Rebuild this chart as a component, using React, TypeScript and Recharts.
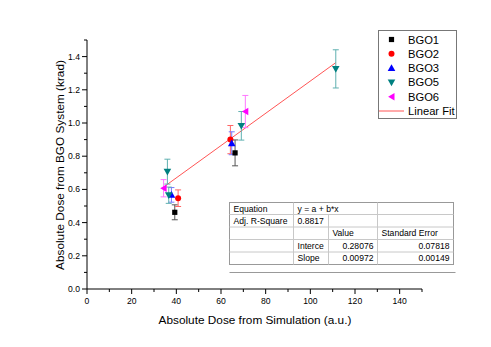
import { ErrorBar, ReferenceLine, Scatter, ScatterChart, XAxis, YAxis } from "recharts";

const xTicks = [0, 10, 20, 30, 40, 50, 60, 70, 80, 90, 100, 110, 120, 130, 140, 150];
const yTicks = [0, 0.1, 0.2, 0.3, 0.4, 0.5, 0.6, 0.7, 0.8, 0.9, 1.0, 1.1, 1.2, 1.3, 1.4, 1.5];

const bgo1X = [66.3, 39.3];
const bgo1Y = [0.82, 0.462];
const bgo1Err = [0.078, 0.045];

const bgo2X = [64.2, 40.8];
const bgo2Y = [0.9, 0.547];
const bgo2Err = [0.085, 0.05];

const bgo3X = [64.8, 37.8];
const bgo3Y = [0.878, 0.567];
const bgo3Err = [0.069, 0.044];

const bgo5X = [69.1, 36.0, 36.6, 111.4];
const bgo5Y = [0.983, 0.707, 0.565, 1.326];
const bgo5Err = [0.086, 0.075, 0.049, 0.115];

const bgo6X = [70.9, 34.3];
const bgo6Y = [1.069, 0.607];
const bgo6Err = [0.097, 0.052];

const fitIntercept = 0.28076;
const fitSlope = 0.00972;
const fitFrom = 34.3;
const fitTo = 111.4;

const tableRows = [
  ["Equation", "y = a + b*x", "", ""],
  ["Adj. R-Square", "0.8817", "", ""],
  ["", "", "Value", "Standard Error"],
  ["", "Interce", "0.28076", "0.07818"],
  ["", "Slope", "0.00972", "0.00149"]
];

const FONT = "'Liberation Sans', Arial, sans-serif";

type MarkProps = { cx?: number; cy?: number; fill?: string };

const square = ({ cx = 0, cy = 0, fill }: MarkProps) => (
  <rect x={cx - 2.6} y={cy - 2.6} width={5.2} height={5.2} fill={fill} />
);
const circle = ({ cx = 0, cy = 0, fill }: MarkProps) => <circle cx={cx} cy={cy} r={3} fill={fill} />;
const triUp = ({ cx = 0, cy = 0, fill }: MarkProps) => (
  <polygon points={`${cx},${cy - 3.8} ${cx + 3.8},${cy + 2.9} ${cx - 3.8},${cy + 2.9}`} fill={fill} />
);
const triDown = ({ cx = 0, cy = 0, fill }: MarkProps) => (
  <polygon points={`${cx},${cy + 3.8} ${cx + 3.8},${cy - 2.9} ${cx - 3.8},${cy - 2.9}`} fill={fill} />
);
const triLeft = ({ cx = 0, cy = 0, fill }: MarkProps) => (
  <polygon points={`${cx - 3.4},${cy} ${cx + 3},${cy - 3.8} ${cx + 3},${cy + 3.8}`} fill={fill} />
);

const toPoints = (xs: number[], ys: number[], errs: number[]) =>
  xs.map((x, i) => ({ x, y: ys[i], err: errs[i] }));

const series = [
  { name: "BGO1", data: toPoints(bgo1X, bgo1Y, bgo1Err), fill: "#000000", bar: "#555555", shape: square },
  { name: "BGO2", data: toPoints(bgo2X, bgo2Y, bgo2Err), fill: "#ff0000", bar: "#ff6666", shape: circle },
  { name: "BGO3", data: toPoints(bgo3X, bgo3Y, bgo3Err), fill: "#0000ff", bar: "#7777ff", shape: triUp },
  { name: "BGO5", data: toPoints(bgo5X, bgo5Y, bgo5Err), fill: "#008080", bar: "#5fb0b0", shape: triDown },
  { name: "BGO6", data: toPoints(bgo6X, bgo6Y, bgo6Err), fill: "#ff00ff", bar: "#ff77ff", shape: triLeft }
];

function XTick({ x, y, payload }: any) {
  const v = payload.value as number;
  const major = v % 20 === 0;
  return (
    <g>
      <line x1={x} y1={y} x2={x} y2={y + (major ? 5 : 3)} stroke="#000" />
      {major && (
        <text x={x} y={y + 15} textAnchor="middle" fontSize={8.6} fontFamily={FONT} fill="#000">
          {v}
        </text>
      )}
    </g>
  );
}

function YTick({ x, y, payload }: any) {
  const v = payload.value as number;
  const major = Math.round(v * 10) % 2 === 0;
  return (
    <g>
      <line x1={x} y1={y} x2={x - (major ? 5 : 3)} y2={y} stroke="#000" />
      {major && (
        <text x={x - 7} y={y + 3} textAnchor="end" fontSize={8.6} fontFamily={FONT} fill="#000">
          {v.toFixed(1)}
        </text>
      )}
    </g>
  );
}

function Overlay() {
  const cols = [229.5, 293.5, 328.5, 377.5, 453.5];
  const rows = [202.5, 214.5, 227, 239.5, 252, 264.5];
  const rightCells = (r: number, c: number) => r >= 3 && c >= 2;
  return (
    <svg width={491} height={347} style={{ position: "absolute", left: 0, top: 0, pointerEvents: "none" }}>
      {/* legend */}
      <rect x={378.5} y={30.5} width={78} height={88} fill="#fff" stroke="#777" />
      {series.map((s, i) => (
        <g key={s.name}>
          {s.shape({ cx: 391.5, cy: 39.5 + i * 14.3, fill: s.fill })}
          <text x={408} y={43.5 + i * 14.3} fontSize={11.2} fontFamily={FONT} fill="#000">
            {s.name}
          </text>
        </g>
      ))}
      <line x1={379} y1={111} x2={404} y2={111} stroke="#ff5555" />
      <text x={408} y={115} fontSize={11.2} fontFamily={FONT} fill="#000">
        Linear Fit
      </text>

      {/* fit table */}
      <rect x={cols[0]} y={rows[0]} width={cols[4] - cols[0]} height={rows[5] - rows[0]} fill="#fff" stroke="#999" />
      {rows.slice(1, 5).map((ry) => (
        <line key={ry} x1={cols[0]} y1={ry} x2={cols[4]} y2={ry} stroke="#c8c8c8" />
      ))}
      {cols.slice(1, 4).map((cx, ci) => (
        <line
          key={cx}
          x1={cx}
          y1={ci === 1 ? rows[1] : rows[0]}
          x2={cx}
          y2={rows[5]}
          stroke="#c8c8c8"
        />
      ))}
      <line x1={cols[0]} y1={272.5} x2={cols[4] + 2} y2={272.5} stroke="#999" />
      {tableRows.map((row, r) =>
        row.map((cell, c) =>
          cell ? (
            <text
              key={`${r}-${c}`}
              x={rightCells(r, c) ? cols[c + 1] - 4 : cols[c] + 4}
              y={(rows[r] + rows[r + 1]) / 2 + 3.2}
              textAnchor={rightCells(r, c) ? "end" : "start"}
              fontSize={8.6}
              fontFamily={FONT}
              fill="#000"
            >
              {cell}
            </text>
          ) : null
        )
      )}

      {/* axis titles */}
      <text x={255} y={324} textAnchor="middle" fontSize={11.8} fontFamily={FONT} fill="#000">
        Absolute Dose from Simulation (a.u.)
      </text>
      <text
        x={64}
        y={165}
        textAnchor="middle"
        fontSize={11.8}
        fontFamily={FONT}
        fill="#000"
        transform="rotate(-90 64 165)"
      >
        Absolute Dose from BGO System (krad)
      </text>
    </svg>
  );
}

export default function App() {
  return (
    <div style={{ position: "absolute", left: 0, top: 0, width: 491, height: 347, background: "#fff" }}>
      <ScatterChart width={491} height={347} margin={{ top: 40, right: 69, bottom: 28, left: 47 }}>
        <XAxis
          type="number"
          dataKey="x"
          domain={[0, 150]}
          ticks={xTicks}
          interval={0}
          tickSize={0}
          tickMargin={0}
          tickLine={false}
          tick={<XTick />}
          axisLine={{ stroke: "#000" }}
          height={30}
          allowDataOverflow
        />
        <YAxis
          type="number"
          dataKey="y"
          domain={[0, 1.5]}
          ticks={yTicks}
          interval={0}
          tickSize={0}
          tickMargin={0}
          tickLine={false}
          tick={<YTick />}
          axisLine={{ stroke: "#000" }}
          width={40}
          allowDataOverflow
        />
        <ReferenceLine
          segment={[
            { x: fitFrom, y: fitIntercept + fitSlope * fitFrom },
            { x: fitTo, y: fitIntercept + fitSlope * fitTo }
          ]}
          stroke="#ff5555"
          strokeWidth={1}
          ifOverflow="visible"
        />
        {series.map((s) => (
          <Scatter
            key={s.name}
            name={s.name}
            data={s.data}
            fill={s.fill}
            shape={s.shape as any}
            isAnimationActive={false}
          >
            <ErrorBar dataKey="err" direction="y" width={3} stroke={s.bar} strokeWidth={1} />
          </Scatter>
        ))}
      </ScatterChart>
      <Overlay />
    </div>
  );
}
